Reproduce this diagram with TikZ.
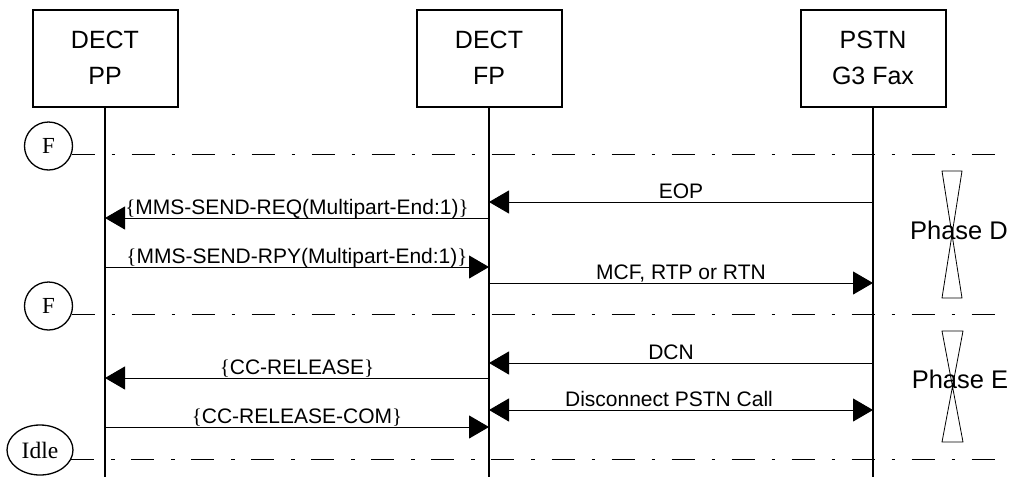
\documentclass[tikz,border=0pt]{standalone}
\usepackage{fontspec}
\setmainfont{Liberation Sans}
\newfontfamily\serifface{Liberation Serif}
\usetikzlibrary{arrows.meta,shapes.geometric}
\newcommand\mylb{{\serifface\{}}
\newcommand\myrb{{\serifface\}}}
\begin{document}
\begin{tikzpicture}[x=1pt,y=-1pt,
  entity/.style={draw,line width=2pt,minimum width=145pt,minimum height=97pt,inner sep=0pt,align=center,font=\fontsize{25}{36}\selectfont},
  life/.style={line width=2pt},
  msg/.style={line width=1pt,-{Triangle[length=20pt,width=23pt]}},
  dmsg/.style={line width=1pt,{Triangle[length=20pt,width=23pt]}-{Triangle[length=20pt,width=23pt]}},
  mlabel/.style={anchor=base,font=\fontsize{21}{25}\selectfont,inner sep=0pt,yshift=4pt},
  statecirc/.style={draw,circle,line width=1.3pt,minimum size=48pt,inner sep=0pt,font=\serifface\fontsize{23}{26}\selectfont},
  stateell/.style={draw,ellipse,line width=1.3pt,minimum width=66pt,minimum height=50pt,inner sep=0pt,font=\serifface\fontsize{23.5}{26}\selectfont},
  sep/.style={line width=0.9pt,dash pattern=on 23pt off 17pt on 3.5pt off 16.5pt},
  phase/.style={line width=0.8pt},
  phlabel/.style={anchor=base,font=\fontsize{25.5}{30}\selectfont,inner sep=0pt}
]
\useasboundingbox (0,0) rectangle (1012,477);
% entities
\node[entity] (pp) at (105,58) {DECT\\PP};
\node[entity] (fp) at (489,58) {DECT\\FP};
\node[entity] (pstn) at (873,58) {PSTN\\G3 Fax};
\coordinate (ppEnd) at (105,477);
\coordinate (fpEnd) at (489,477);
\coordinate (pstnEnd) at (873,477);
\draw[life] (pp.south) -- (ppEnd);
\draw[life] (fp.south) -- (fpEnd);
\draw[life] (pstn.south) -- (pstnEnd);
% states and separators
\coordinate (rightEdge) at (1008,0);
\node[statecirc] (f1) at (48.5,146) {F};
\node[statecirc] (f2) at (48.5,306) {F};
\node[stateell] (idle) at (40,450) {Idle};
\draw[sep] (f1.-20) -- (f1.-20 -| rightEdge);
\draw[sep] (f2.-20) -- (f2.-20 -| rightEdge);
\draw[sep] (idle.-16) -- (idle.-16 -| rightEdge);
% message rows
\coordinate (r1) at (0,218);
\coordinate (r2) at (0,267);
\coordinate (r3) at (0,202);
\coordinate (r4) at (0,283);
\coordinate (r5) at (0,378);
\coordinate (r6) at (0,427);
\coordinate (r7) at (0,363);
\coordinate (r8) at (0,410);
\draw[msg] (fp |- r1) -- node[mlabel] {\mylb MMS-SEND-REQ(Multipart-End:1)\myrb} (pp |- r1);
\draw[msg] (pp |- r2) -- node[mlabel] {\mylb MMS-SEND-RPY(Multipart-End:1)\myrb} (fp |- r2);
\draw[msg] (pstn |- r3) -- node[mlabel] {EOP} (fp |- r3);
\draw[msg] (fp |- r4) -- node[mlabel] {MCF, RTP or RTN} (pstn |- r4);
\draw[msg] (fp |- r5) -- node[mlabel] {\mylb CC-RELEASE\myrb} (pp |- r5);
\draw[msg] (pp |- r6) -- node[mlabel] {\mylb CC-RELEASE-COM\myrb} (fp |- r6);
\draw[msg] (pstn |- r7) -- node[mlabel,xshift=-10pt] {DCN} (fp |- r7);
\draw[dmsg] (fp |- r8) -- node[mlabel,xshift=-12pt] {Disconnect PSTN Call} (pstn |- r8);
% phases
\draw[phase] (942,171) -- (962,171) -- (942,298) -- (962,298) -- cycle;
\node[phlabel] (phD) at (959,239) {Phase D};
\draw[phase] (942,331) -- (963,331) -- (942,442) -- (963,442) -- cycle;
\node[phlabel] (phE) at (960,388) {Phase E};
\end{tikzpicture}
\end{document}
